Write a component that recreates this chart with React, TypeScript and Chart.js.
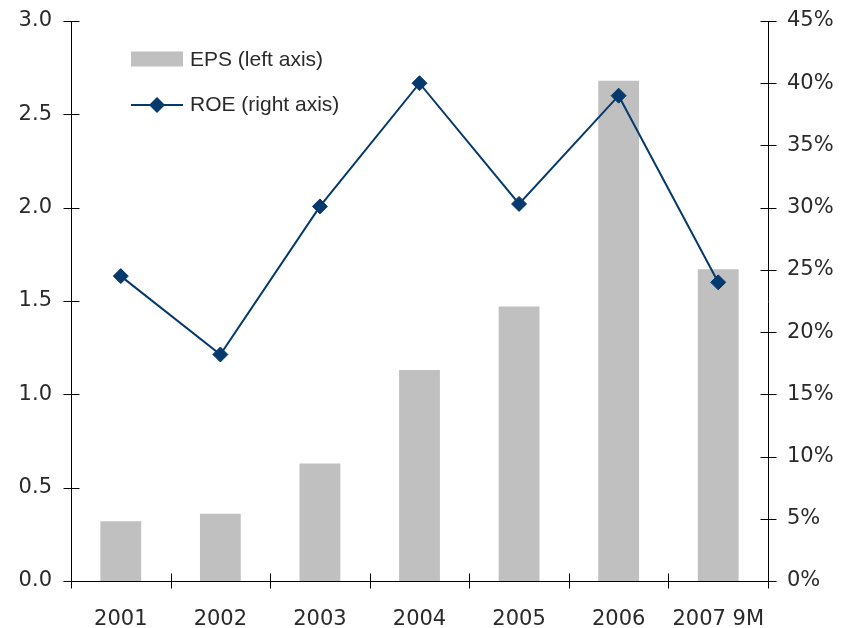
import React, { useEffect, useRef } from 'react';
import { Chart, registerables } from 'chart.js';

Chart.register(...registerables);

const categories = ['2001', '2002', '2003', '2004', '2005', '2006', '2007 9M'];
const epsValues = [0.32, 0.36, 0.63, 1.13, 1.47, 2.68, 1.67];
const roeValues = [24.5, 18.2, 30.1, 40.0, 30.3, 39.0, 24.0];
const epsLabel = 'EPS (left axis)';
const roeLabel = 'ROE (right axis)';
const leftAxisMax = 3;
const leftAxisStep = 0.5;
const rightAxisMax = 45;
const rightAxisStep = 5;

const BAR_COLOR = '#c0c0c0';
const LINE_COLOR = '#063a6d';
const TEXT_COLOR = '#2a2a2a';
const AXIS_COLOR = '#000000';
const TICK_FONT = { family: '"DejaVu Sans", sans-serif', size: 21 };
const LEGEND_FONT = '21px "Liberation Sans", Arial, sans-serif';

const tickMarksPlugin = {
  id: 'tickMarks',
  afterDraw(chart: any) {
    const ctx = chart.ctx;
    const { x, y, y1 } = chart.scales;
    ctx.save();
    ctx.strokeStyle = AXIS_COLOR;
    ctx.lineWidth = 1;
    ctx.beginPath();
    const ax = Math.round(y.right) + 0.5;
    y.ticks.forEach((t: any) => {
      const py = Math.round(y.getPixelForValue(t.value)) + 0.5;
      ctx.moveTo(ax - 8, py);
      ctx.lineTo(ax + 8, py);
    });
    const bx = Math.round(y1.left) + 0.5;
    y1.ticks.forEach((t: any) => {
      const py = Math.round(y1.getPixelForValue(t.value)) + 0.5;
      ctx.moveTo(bx - 8, py);
      ctx.lineTo(bx + 8, py);
    });
    const by = Math.round(x.top) + 0.5;
    for (let i = 0; i <= categories.length; i++) {
      const px = Math.round(x.getPixelForValue(i - 0.5)) + 0.5;
      ctx.moveTo(px, by - 8);
      ctx.lineTo(px, by + 7);
    }
    ctx.stroke();
    ctx.restore();
  },
};

const legendPlugin = {
  id: 'insideLegend',
  afterDraw(chart: any) {
    const ctx = chart.ctx;
    const area = chart.chartArea;
    const x0 = area.left + 60;
    const y0 = area.top + 38;
    const y1 = area.top + 84;
    ctx.save();
    ctx.fillStyle = BAR_COLOR;
    ctx.fillRect(x0, y0 - 7.5, 52, 15);
    ctx.strokeStyle = LINE_COLOR;
    ctx.lineWidth = 2;
    ctx.beginPath();
    ctx.moveTo(x0, y1);
    ctx.lineTo(x0 + 52, y1);
    ctx.stroke();
    ctx.fillStyle = LINE_COLOR;
    const cx = x0 + 26;
    const r = 8;
    ctx.beginPath();
    ctx.moveTo(cx - r, y1);
    ctx.lineTo(cx, y1 - r);
    ctx.lineTo(cx + r, y1);
    ctx.lineTo(cx, y1 + r);
    ctx.closePath();
    ctx.fill();
    ctx.fillStyle = TEXT_COLOR;
    ctx.font = LEGEND_FONT;
    ctx.textBaseline = 'middle';
    ctx.textAlign = 'left';
    ctx.fillText(chart.data.datasets[0].label, x0 + 59, y0 + 1);
    ctx.fillText(chart.data.datasets[1].label, x0 + 59, y1);
    ctx.restore();
  },
};

function fixVertical(width: number) {
  return (scale: any) => {
    scale.width = width;
    scale.paddingTop = 0;
    scale.paddingBottom = 0;
  };
}

export default function App() {
  const canvasRef = useRef<HTMLCanvasElement | null>(null);

  useEffect(() => {
    if (!canvasRef.current) return;
    const chart = new Chart(canvasRef.current, {
      type: 'bar',
      data: {
        labels: categories,
        datasets: [
          {
            type: 'bar',
            label: epsLabel,
            data: epsValues,
            backgroundColor: BAR_COLOR,
            borderWidth: 0,
            barPercentage: 0.41,
            categoryPercentage: 1,
            yAxisID: 'y',
            order: 2,
          },
          {
            type: 'line',
            label: roeLabel,
            data: roeValues,
            borderColor: LINE_COLOR,
            backgroundColor: LINE_COLOR,
            borderWidth: 2,
            pointStyle: 'rectRot',
            pointRadius: 7.5,
            pointBorderWidth: 1,
            pointBackgroundColor: LINE_COLOR,
            pointBorderColor: LINE_COLOR,
            tension: 0,
            yAxisID: 'y1',
            order: 1,
          },
        ] as any,
      },
      options: {
        responsive: false,
        animation: false,
        devicePixelRatio: 1,
        layout: { padding: { top: 21, left: 0, right: 0, bottom: 0 } },
        plugins: {
          legend: { display: false },
          tooltip: { enabled: false },
        },
        scales: {
          x: {
            offset: true,
            grid: { display: false, drawTicks: false, tickLength: 0 },
            border: { display: true, color: AXIS_COLOR, width: 1 },
            ticks: { font: TICK_FONT, color: TEXT_COLOR, padding: 26, maxRotation: 0, autoSkip: false },
            afterFit(scale: any) {
              scale.height = 47;
              scale.paddingLeft = 0;
              scale.paddingRight = 0;
            },
          },
          y: {
            position: 'left',
            min: 0,
            max: leftAxisMax,
            grid: { display: false, drawTicks: false, tickLength: 0 },
            border: { display: true, color: AXIS_COLOR, width: 1 },
            ticks: {
              stepSize: leftAxisStep,
              font: TICK_FONT,
              color: TEXT_COLOR,
              padding: 19,
              callback: (v: any) => Number(v).toFixed(1),
            },
            afterFit: fixVertical(71),
          },
          y1: {
            position: 'right',
            min: 0,
            max: rightAxisMax,
            grid: { display: false, drawTicks: false, tickLength: 0 },
            border: { display: true, color: AXIS_COLOR, width: 1 },
            ticks: {
              stepSize: rightAxisStep,
              font: TICK_FONT,
              color: TEXT_COLOR,
              padding: 19,
              callback: (v: any) => `${Math.round(Number(v))}%`,
            },
            afterFit: fixVertical(73),
          },
        },
      } as any,
      plugins: [tickMarksPlugin, legendPlugin],
    });
    return () => chart.destroy();
  }, []);

  return (
    <div style={{ position: 'absolute', left: 0, top: 0, width: 841, height: 628, background: '#fff' }}>
      <canvas ref={canvasRef} width={841} height={628} style={{ display: 'block' }} />
    </div>
  );
}
